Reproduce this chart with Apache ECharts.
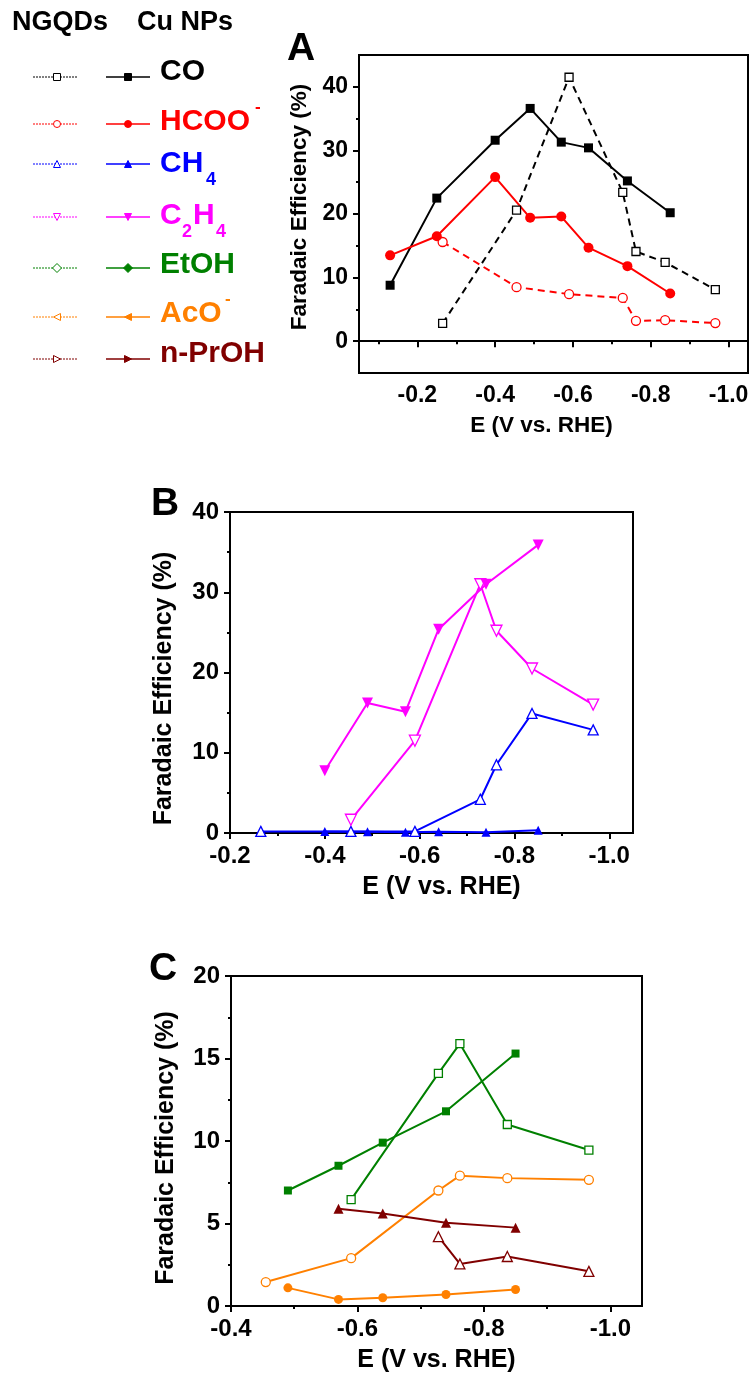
<!DOCTYPE html>
<html>
<head>
<meta charset="utf-8">
<script src="https://cdn.jsdelivr.net/npm/echarts@6/dist/echarts.min.js"></script>
<style>
html, body { margin: 0; padding: 0; background: #fff; }
#chart { width: 751px; height: 1379px; }
</style>
</head>
<body>
<div id="chart"></div>
<script>
// ==============================================================
// data (E in V vs. RHE, FE in %)
// ==============================================================
var cuX8 = [-0.13, -0.25, -0.40, -0.49, -0.57, -0.64, -0.74, -0.85];
var cuX6 = [-0.40, -0.49, -0.57, -0.64, -0.74, -0.85];
var cuX5 = [-0.49, -0.57, -0.64, -0.74, -0.85];
var cuX4 = [-0.57, -0.64, -0.74, -0.85];
var ngX7 = [-0.265, -0.455, -0.59, -0.728, -0.762, -0.837, -0.966];
var ngX6 = [-0.455, -0.59, -0.728, -0.762, -0.837, -0.966];
var ngX5 = [-0.59, -0.728, -0.762, -0.837, -0.966];
var ngX4 = [-0.728, -0.762, -0.837, -0.966];

// panel A
var coCu = [8.8, 22.5, 31.6, 36.6, 31.3, 30.4, 25.2, 20.2];
var hcooCu = [13.5, 16.5, 25.8, 19.4, 19.6, 14.7, 11.8, 7.5];
var coNg = [2.8, 20.6, 41.5, 23.4, 14.1, 12.4, 8.1];
var hcooNg = [15.6, 8.5, 7.4, 6.8, 3.2, 3.3, 2.85];

// panel B
var c2h4Cu = [7.75, 16.2, 15.1, 25.4, 31.0, 35.9];
var ch4Cu = [0.2, 0.15, 0.1, 0.15, 0.1, 0.35];
var c2h4Ng = [1.65, 11.5, 31.0, 25.2, 20.5, 16.0];
var ch4Ng = [0.2, 0.2, 0.2, 4.2, 8.5, 14.9, 12.85];

// panel C
var etohCu = [7.0, 8.5, 9.9, 11.8, 15.3];
var acoCu = [1.1, 0.4, 0.5, 0.7, 1.0];
var proCu = [5.9, 5.6, 5.05, 4.75];
var etohNg = [6.45, 14.1, 15.9, 11.0, 9.45];
var acoNg = [1.45, 2.9, 7.0, 7.9, 7.75, 7.65];
var proNg = [4.2, 2.55, 3.0, 2.1];

// tick labels
var ticksA = [-0.2, -0.4, -0.6, -0.8, -1.0];
var minorA = [-0.1, -0.3, -0.5, -0.7, -0.9];
var ticksB = [-0.2, -0.4, -0.6, -0.8, -1.0];
var minorB = [-0.3, -0.5, -0.7, -0.9];
var ticksC = [-0.4, -0.6, -0.8, -1.0];
var minorC = [-0.5, -0.7, -0.9];
var yTicksA = [0, 10, 20, 30, 40];
var yMinorA = [5, 15, 25, 35];

var FONT = '"Liberation Sans", Arial, sans-serif';
var BLACK = '#000', RED = '#ff0000', BLUE = '#0000ff', MAG = '#ff00ff',
    GREEN = '#008000', ORANGE = '#ff8000', DRED = '#800000';

function pts(xs, ys) {
    return xs.map(function (x, i) { return [x, ys[i]]; });
}

function ser(xi, yi, xs, ys, color, symbol, size, filled, dashed, rot) {
    return {
        type: 'line',
        xAxisIndex: xi,
        yAxisIndex: yi,
        data: pts(xs, ys),
        symbol: symbol,
        symbolSize: size,
        symbolRotate: rot || 0,
        showAllSymbol: true,
        animation: false,
        lineStyle: { color: color, width: 2, type: dashed ? [7, 5] : 'solid' },
        itemStyle: { color: filled ? color : '#fff', borderColor: color, borderWidth: filled ? 0 : 1.3 },
        emphasis: { disabled: true }
    };
}

function xMain(grid, min, max, ticks, name, gap, pad) {
    return {
        type: 'value', gridIndex: grid, min: min, max: max, inverse: true, position: 'bottom',
        name: name, nameLocation: 'middle', nameGap: gap,
        nameTextStyle: { fontFamily: FONT, fontWeight: 'bold', fontSize: 25, color: BLACK, padding: pad },
        axisLine: { lineStyle: { color: BLACK, width: 2 } },
        axisTick: { customValues: ticks, length: 6, lineStyle: { width: 2 } },
        axisLabel: {
            customValues: ticks, margin: 11, color: BLACK,
            fontFamily: FONT, fontWeight: 'bold', fontSize: 24,
            formatter: function (v) { return v.toFixed(1); }
        },
        splitLine: { show: false }
    };
}

function xMinor(grid, min, max, ticks) {
    return {
        type: 'value', gridIndex: grid, min: min, max: max, inverse: true, position: 'bottom',
        axisLine: { show: false },
        axisTick: { customValues: ticks, length: 3, lineStyle: { color: BLACK, width: 2 } },
        axisLabel: { show: false },
        splitLine: { show: false }
    };
}

function yAxisBase(grid, min, max, name, gap, pad, fs) {
    return {
        type: 'value', gridIndex: grid, min: min, max: max, position: 'left',
        name: name, nameLocation: 'middle', nameGap: gap,
        nameTextStyle: { fontFamily: FONT, fontWeight: 'bold', fontSize: fs, color: BLACK, padding: pad },
        axisLine: { show: true, lineStyle: { color: BLACK, width: 2 } },
        axisTick: { show: true, length: 6, lineStyle: { width: 2 } },
        axisLabel: { margin: 11, color: BLACK, fontFamily: FONT, fontWeight: 'bold', fontSize: 24 },
        splitLine: { show: false }
    };
}

var FE = 'Faradaic Efficiency (%)';
var EN = 'E (V vs. RHE)';

var yA = yAxisBase(0, -5, 45, FE, 45, [0, 0, 0, 14], 22.5);
yA.axisTick.customValues = yTicksA;
yA.axisLabel.customValues = yTicksA;
yA.axisLabel.fontSize = 23;
var yAminor = {
    type: 'value', gridIndex: 0, min: -5, max: 45, position: 'left',
    axisLine: { show: false },
    axisTick: { show: true, customValues: yMinorA, length: 3, lineStyle: { color: BLACK, width: 2 } },
    axisLabel: { show: false },
    splitLine: { show: false }
};
var yB = yAxisBase(1, 0, 40, FE, 53, [0, 32, 0, 0], 25);
yB.interval = 10;
yB.minorTick = { show: true, splitNumber: 2, length: 3, lineStyle: { color: BLACK, width: 2 } };
var yC = yAxisBase(2, 0, 20, FE, 52, [0, 14, 0, 0], 25);
yC.interval = 5;
yC.minorTick = { show: true, splitNumber: 2, length: 3, lineStyle: { color: BLACK, width: 2 } };

var xA = xMain(0, -1.05, -0.05, ticksA, EN, 41, [0, 24, 0, 0]);
xA.nameTextStyle.fontSize = 22.5;
xA.axisLabel.fontSize = 23;
var xB = xMain(1, -1.05, -0.2, ticksB, EN, 42, [0, 0, 0, 20]);
var xC = xMain(2, -1.05, -0.4, ticksC, EN, 42, [0, 0, 0, 0]);

// --------------------------------------------------------------
// legend drawn with graphic elements
// --------------------------------------------------------------
var legRows = [77, 124, 164, 217, 268, 317, 359];
var legColors = [BLACK, RED, BLUE, MAG, GREEN, ORANGE, DRED];
var legShapes = ['rect', 'circle', 'up', 'down', 'diamond', 'left', 'right'];

function marker(shape, cx, cy, s, color, filled) {
    var st = { fill: filled ? color : '#fff', stroke: color, lineWidth: 1 };
    var h = s / 2;
    if (shape === 'rect') return { type: 'rect', shape: { x: cx - h, y: cy - h, width: s, height: s }, style: st };
    if (shape === 'circle') return { type: 'circle', shape: { cx: cx, cy: cy, r: h }, style: st };
    var p;
    if (shape === 'up') p = [[cx, cy - h], [cx + h, cy + h], [cx - h, cy + h]];
    if (shape === 'down') p = [[cx, cy + h], [cx + h, cy - h], [cx - h, cy - h]];
    if (shape === 'left') p = [[cx - h, cy], [cx + h, cy - h], [cx + h, cy + h]];
    if (shape === 'right') p = [[cx + h, cy], [cx - h, cy - h], [cx - h, cy + h]];
    if (shape === 'diamond') p = [[cx, cy - h - 1], [cx + h + 1, cy], [cx, cy + h + 1], [cx - h - 1, cy]];
    return { type: 'polygon', shape: { points: p }, style: st };
}

function txt(t, x, y, size, color) {
    return {
        type: 'text', x: x, y: y,
        style: { text: t, font: 'bold ' + size + 'px ' + FONT, fill: color, align: 'left', verticalAlign: 'middle' }
    };
}

var graphics = [];
legRows.forEach(function (y, i) {
    var c = legColors[i];
    graphics.push({ type: 'line', shape: { x1: 33, y1: y, x2: 78, y2: y }, style: { stroke: c, lineWidth: 1, lineDash: [2, 1] } });
    graphics.push(marker(legShapes[i], 57, y, 7, c, false));
    graphics.push({ type: 'line', shape: { x1: 106, y1: y, x2: 150, y2: y }, style: { stroke: c, lineWidth: 1.3 } });
    graphics.push(marker(legShapes[i], 128, y, 7, c, true));
});
graphics.push(txt('NGQDs', 12, 23, 27, BLACK));
graphics.push(txt('Cu NPs', 137, 23, 27, BLACK));
graphics.push(txt('CO', 160, 72, 30, BLACK));
graphics.push(txt('HCOO', 160, 122, 30, RED));
graphics.push(txt('-', 255, 107, 17, RED));
graphics.push(txt('CH', 160, 164, 30, BLUE));
graphics.push(txt('4', 206, 180, 18, BLUE));
graphics.push(txt('C', 160, 216, 30, MAG));
graphics.push(txt('2', 182, 232, 18, MAG));
graphics.push(txt('H', 193, 216, 30, MAG));
graphics.push(txt('4', 216, 232, 18, MAG));
graphics.push(txt('EtOH', 160, 265, 30, GREEN));
graphics.push(txt('AcO', 160, 314, 30, ORANGE));
graphics.push(txt('-', 225, 299, 17, ORANGE));
graphics.push(txt('n-PrOH', 160, 354, 30, DRED));
graphics.push(txt('A', 287, 49, 39, BLACK));
graphics.push(txt('B', 151, 504, 39, BLACK));
graphics.push(txt('C', 149, 969, 39, BLACK));

var box = { show: true, borderColor: BLACK, borderWidth: 2, backgroundColor: 'transparent', containLabel: false, outerBoundsMode: 'none' };

var option = {
    backgroundColor: '#fff',
    animation: false,
    grid: [
        Object.assign({ left: 359, top: 55, width: 389, height: 318 }, box),
        Object.assign({ left: 230, top: 512, width: 403, height: 321 }, box),
        Object.assign({ left: 231, top: 976, width: 411, height: 330 }, box)
    ],
    xAxis: [
        xA, xMinor(0, -1.05, -0.05, minorA),
        xB, xMinor(1, -1.05, -0.2, minorB),
        xC, xMinor(2, -1.05, -0.4, minorC)
    ],
    yAxis: [yA, yAminor, yB, yC],
    graphic: graphics,
    series: [
        // A
        ser(0, 0, ngX7, coNg, BLACK, 'rect', 8, false, true),
        ser(0, 0, ngX7, hcooNg, RED, 'circle', 9, false, true),
        ser(0, 0, cuX8, coCu, BLACK, 'rect', 9, true, false),
        ser(0, 0, cuX8, hcooCu, RED, 'circle', 10, true, false),
        // B
        ser(2, 2, ngX7, ch4Ng, BLUE, 'triangle', 10, false, false),
        ser(2, 2, ngX6, c2h4Ng, MAG, 'triangle', 11, false, false, 180),
        ser(2, 2, cuX6, ch4Cu, BLUE, 'triangle', 9, true, false),
        ser(2, 2, cuX6, c2h4Cu, MAG, 'triangle', 11, true, false, 180),
        // C
        ser(4, 3, ngX5, etohNg, GREEN, 'rect', 8, false, false),
        ser(4, 3, ngX6, acoNg, ORANGE, 'circle', 9, false, false),
        ser(4, 3, ngX4, proNg, DRED, 'triangle', 10, false, false),
        ser(4, 3, cuX5, etohCu, GREEN, 'rect', 8, true, false),
        ser(4, 3, cuX5, acoCu, ORANGE, 'circle', 9, true, false),
        ser(4, 3, cuX4, proCu, DRED, 'triangle', 10, true, false)
    ]
};

var myChart = echarts.init(document.getElementById('chart'));
myChart.setOption(option);
</script>
</body>
</html>
